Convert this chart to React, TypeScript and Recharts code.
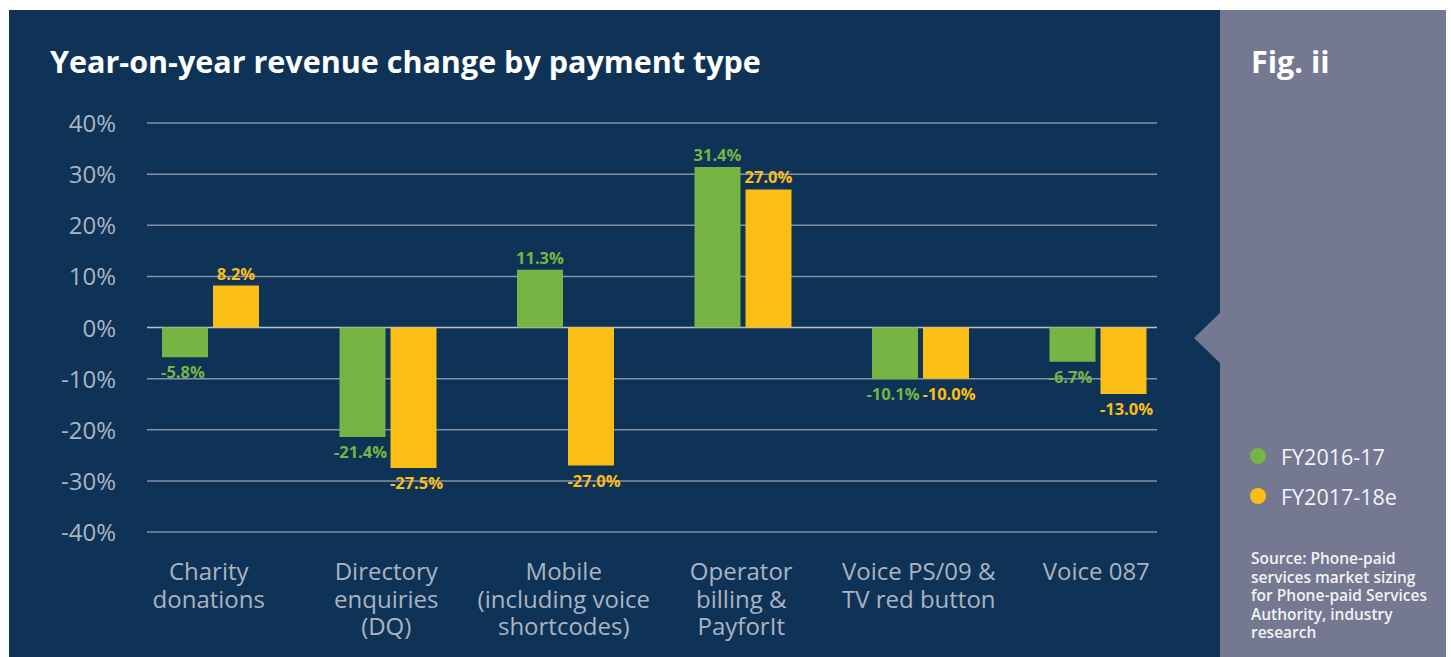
import React from "react";
import { BarChart, Bar, XAxis, YAxis, CartesianGrid, LabelList } from "recharts";

const categories: string[][] = [
  ["Charity", "donations"],
  ["Directory", "enquiries", "(DQ)"],
  ["Mobile", "(including voice", "shortcodes)"],
  ["Operator", "billing &", "PayforIt"],
  ["Voice PS/09 &", "TV red button"],
  ["Voice 087"],
];
const fy1617: number[] = [-5.8, -21.4, 11.3, 31.4, -10.1, -6.7];
const fy1718: number[] = [8.2, -27.5, -27.0, 27.0, -10.0, -13.0];
const yTicks: number[] = [-40, -30, -20, -10, 0, 10, 20, 30, 40];
const seriesNames: string[] = ["FY2016-17", "FY2017-18e"];
const sourceLines: string[] = [
  "Source: Phone-paid",
  "services market sizing",
  "for Phone-paid Services",
  "Authority, industry",
  "research",
];

const NAVY = "#0f3357";
const SIDE = "#747891";
const GREEN = "#76b543";
const YELLOW = "#fbbe14";
const AXIS_TEXT = "#aab3c2";
const FONT = "'Open Sans', 'Noto Sans', sans-serif";

const data = categories.map((c, i) => ({
  key: String(i),
  lines: c,
  a: fy1617[i],
  b: fy1718[i],
}));

const XTick = (props: any) => {
  const { x, y, payload } = props;
  const lines = categories[Number(payload.value)] || [];
  return (
    <text
      x={x - 2}
      y={y + 48}
      textAnchor="middle"
      fill={AXIS_TEXT}
      fontSize={24}
      fontFamily={FONT}
    >
      {lines.map((l, i) => (
        <tspan key={i} x={x - 2} dy={i === 0 ? 0 : 27.5}>
          {l}
        </tspan>
      ))}
    </text>
  );
};

const YTick = (props: any) => {
  const { x, y, payload } = props;
  return (
    <text
      x={x - 6}
      y={y + 9}
      textAnchor="end"
      fill={AXIS_TEXT}
      fontSize={24}
      fontFamily={FONT}
    >
      {payload.value}%
    </text>
  );
};

const makeLabel = (color: string, nudge: number) => (props: any) => {
  const { x, y, width, height, value } = props;
  const top = Math.min(y, y + height);
  const bottom = Math.max(y, y + height);
  const cx = x + width / 2 + (value < 0 ? nudge : 0);
  const ty = value >= 0 ? top - 6 : bottom + 21;
  return (
    <text
      x={cx}
      y={ty}
      textAnchor="middle"
      fill={color}
      fontSize={16.5}
      fontWeight={700}
      fontFamily={FONT}
    >
      {Number(value).toFixed(1)}%
    </text>
  );
};

const GridLine = (props: any) => {
  const { x1, x2, y1, y2, index } = props;
  const isZero = Math.abs(y1 - 327.5) < 2;
  return (
    <line
      x1={x1 + 25}
      x2={x2 - 30}
      y1={y1}
      y2={y2}
      stroke={isZero ? "#b9c0cc" : "#8591a6"}
      strokeWidth={1.5}
      key={index}
    />
  );
};

export default function App() {
  return (
    <div
      style={{
        position: "absolute",
        left: 0,
        top: 0,
        width: 1451,
        height: 657,
        background: "#ffffff",
        overflow: "hidden",
        fontFamily: FONT,
      }}
    >
      <div style={{ position: "absolute", left: 9, top: 10, width: 1211, height: 647, background: NAVY }} />
      <div style={{ position: "absolute", left: 1220, top: 10, width: 226, height: 647, background: SIDE }} />
      <svg style={{ position: "absolute", left: 0, top: 0 }} width={1451} height={657}>
        <polygon points="1221,312 1194,338 1221,364" fill={SIDE} />
      </svg>
      <div
        style={{
          position: "absolute",
          left: 50,
          top: 41,
          color: "#ffffff",
          fontSize: 30.5,
          fontWeight: 700,
          lineHeight: "40px",
          whiteSpace: "nowrap",
        }}
      >
        Year-on-year revenue change by payment type
      </div>
      <div
        style={{
          position: "absolute",
          left: 1251,
          top: 41,
          color: "#ffffff",
          fontSize: 30.5,
          fontWeight: 700,
          lineHeight: "40px",
        }}
      >
        Fig. ii
      </div>
      <div style={{ position: "absolute", left: 0, top: 0 }}>
        <BarChart
          width={1451}
          height={657}
          data={data}
          margin={{ top: 123, right: 264, bottom: 5, left: 42 }}
          barSize={46}
          barGap={5}
        >
          <CartesianGrid vertical={false} horizontal={GridLine as any} stroke="#8591a6" />
          <XAxis
            dataKey="key"
            tick={<XTick />}
            tickLine={false}
            axisLine={false}
            tickSize={0}
            tickMargin={0}
            height={120}
            interval={0}
          />
          <YAxis
            domain={[-40, 40]}
            ticks={yTicks}
            tick={<YTick />}
            tickLine={false}
            axisLine={false}
            tickSize={0}
            tickMargin={0}
            width={80}
            interval={0}
          />
          <Bar dataKey="a" name={seriesNames[0]} fill={GREEN} isAnimationActive={false}>
            <LabelList dataKey="a" content={makeLabel(GREEN, -2)} />
          </Bar>
          <Bar dataKey="b" name={seriesNames[1]} fill={YELLOW} isAnimationActive={false}>
            <LabelList dataKey="b" content={makeLabel(YELLOW, 3)} />
          </Bar>
        </BarChart>
      </div>
      <div style={{ position: "absolute", left: 1250, top: 436 }}>
        {seriesNames.map((n, i) => (
          <div key={n} style={{ display: "flex", alignItems: "center", height: 40 }}>
            <span
              style={{
                width: 16,
                height: 16,
                borderRadius: "50%",
                background: i === 0 ? GREEN : YELLOW,
                display: "inline-block",
                marginRight: 15,
              }}
            />
            <span style={{ color: "#f4f4f7", fontSize: 21.5, fontWeight: 500 }}>{n}</span>
          </div>
        ))}
      </div>
      <div
        style={{
          position: "absolute",
          left: 1251,
          top: 549,
          color: "#f2f2f5",
          fontSize: 15.5,
          fontWeight: 600,
          lineHeight: "18.5px",
          whiteSpace: "nowrap",
        }}
      >
        {sourceLines.map((l) => (
          <div key={l}>{l}</div>
        ))}
      </div>
    </div>
  );
}
